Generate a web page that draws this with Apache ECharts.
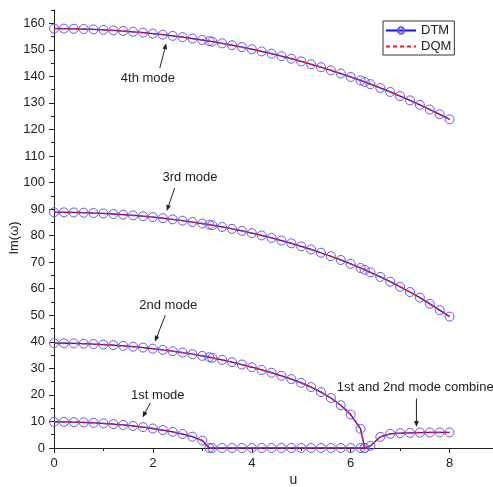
<!DOCTYPE html>
<html>
<head>
<meta charset="utf-8">
<script src="https://cdn.jsdelivr.net/npm/echarts@6/dist/echarts.min.js"></script>
<style>
  html, body { margin: 0; padding: 0; background: #fff; }
  #chart { width: 493px; height: 487px; }
</style>
</head>
<body>
<div id="chart"></div>
<script>
// Flow velocity stations (0.2 steps, with π and 2π added as extra stations)
const uValues = [0, 0.2, 0.4, 0.6, 0.8, 1.0, 1.2, 1.4, 1.6, 1.8, 2.0, 2.2, 2.4, 2.6, 2.8, 3.0, 3.1416,
  3.2, 3.4, 3.6, 3.8, 4.0, 4.2, 4.4, 4.6, 4.8, 5.0, 5.2, 5.4, 5.6, 5.8, 6.0, 6.2, 6.2832,
  6.4, 6.6, 6.8, 7.0, 7.2, 7.4, 7.6, 7.8, 8.0];

// Im(ω) of each mode at the stations above
// 1st mode: vanishes at u = π, stays zero, then the combined 1st/2nd branch
const mode1 = [9.87, 9.84, 9.77, 9.65, 9.48, 9.27, 9.00, 8.68, 8.30, 7.86, 7.35, 6.76, 6.08, 5.27, 4.25, 2.80, 0,
  0, 0, 0, 0, 0, 0, 0, 0, 0, 0, 0, 0, 0, 0, 0, 0, 0,
  0.8, 4.2, 5.3, 5.6, 5.7, 5.8, 5.85, 5.85, 5.85];
// 2nd mode: vanishes at u = 2π
const mode2 = [39.48, 39.46, 39.40, 39.30, 39.16, 38.97, 38.75, 38.48, 38.18, 37.82, 37.42, 36.98, 36.48, 35.94, 35.34, 34.69, 34.19,
  33.97, 33.20, 32.36, 31.44, 30.44, 29.40, 28.35, 27.20, 25.95, 24.55, 22.95, 21.05, 18.85, 16.10, 12.60, 7.20, 0];
const mode3 = [88.80, 88.78, 88.73, 88.64, 88.51, 88.35, 88.15, 87.91, 87.63, 87.32, 86.96, 86.56, 86.13, 85.64, 85.12, 84.55, 84.12,
  83.93, 83.26, 82.55, 81.78, 80.96, 80.08, 79.15, 78.16, 77.10, 75.99, 74.80, 73.55, 72.23, 70.83, 69.36, 67.81, 67.14,
  66.17, 64.45, 62.65, 60.75, 58.75, 56.66, 54.30, 51.95, 49.50];
const mode4 = [158.00, 157.98, 157.92, 157.83, 157.70, 157.53, 157.32, 157.08, 156.79, 156.47, 156.10, 155.70, 155.26, 154.78, 154.25, 153.69, 153.26,
  153.08, 152.43, 151.74, 151.00, 150.22, 149.40, 148.53, 147.61, 146.64, 145.63, 144.56, 143.44, 142.28, 141.06, 139.78, 138.46, 137.89,
  137.07, 135.63, 134.13, 132.57, 130.95, 129.26, 127.52, 125.70, 123.82];

const xTickValues = [0, 2, 4, 6, 8];
const yTickValues = [0, 10, 20, 30, 40, 50, 60, 70, 80, 90, 100, 110, 120, 130, 140, 150, 160];

// Mode labels with their arrows, in data coordinates (u, Im(ω))
const notes = [
  { text: '4th mode', at: [1.90, 139.4], from: [2.14, 143.1], to: [2.27, 152.5], align: 'center' },
  { text: '3rd mode', at: [2.75, 102.0], from: [2.44, 97.9], to: [2.28, 89.3], align: 'center' },
  { text: '2nd mode', at: [2.31, 53.7], from: [2.25, 50.0], to: [2.04, 40.0], align: 'center' },
  { text: '1st mode', at: [2.10, 19.8], from: [1.95, 17.0], to: [1.79, 11.5], align: 'center' },
  { text: '1st and 2nd mode combined', at: [5.72, 22.8], from: [7.33, 18.6], to: [7.33, 7.9], align: 'left' }
];

const FONT = 'Liberation Sans, Arial, sans-serif';
const INK = '#222';

function pairs(vals) { return vals.map((v, i) => [uValues[i], v]); }

const modes = [mode1, mode2, mode3, mode4];

const dtmSeries = modes.map(m => ({
  name: 'DTM', type: 'line', data: pairs(m), z: 2,
  symbol: 'circle', symbolSize: 9, showAllSymbol: true,
  lineStyle: { color: '#1010ff', width: 1.3 },
  itemStyle: { color: 'rgba(0,0,0,0)', borderColor: '#5a5aff', borderWidth: 1 },
  emphasis: { disabled: true }
}));
const dqmSeries = modes.map(m => ({
  name: 'DQM', type: 'line', data: pairs(m), z: 3,
  symbol: 'none',
  lineStyle: { color: '#ee1c1c', width: 1.5, type: [4, 3] },
  itemStyle: { color: '#ee1c1c' },
  emphasis: { disabled: true }
}));

const chart = echarts.init(document.getElementById('chart'), null, { renderer: 'canvas' });

const axisText = { color: INK, fontSize: 13, fontFamily: FONT };

chart.setOption({
  animation: false,
  backgroundColor: '#fff',
  grid: { left: 54, right: -6, top: 10, bottom: 39, containLabel: false, outerBoundsMode: 'none' },
  legend: {
    data: [
      { name: 'DTM' },
      { name: 'DQM', itemStyle: { opacity: 0 } }
    ],
    orient: 'vertical', left: 383, top: 21,
    padding: [3, 3, 2, 2], itemGap: 3, itemWidth: 30, itemHeight: 8,
    borderColor: '#333', borderWidth: 1, backgroundColor: '#fff',
    textStyle: { fontSize: 13, color: INK, fontFamily: FONT }
  },
  xAxis: [
    {
      type: 'value', min: 0, max: 9, interval: 2,
      axisLine: { lineStyle: { color: INK, width: 1 } },
      axisTick: { length: 5, lineStyle: { color: INK }, customValues: xTickValues },
      axisLabel: Object.assign({ margin: 9, customValues: xTickValues }, axisText),
      splitLine: { show: false },
      name: 'u', nameLocation: 'middle', nameGap: 25, nameMoveOverlap: false,
      nameTextStyle: { color: INK, fontSize: 14, fontFamily: FONT, padding: [0, 0, 0, 34] }
    },
    {
      type: 'value', min: 0, max: 9, interval: 1, position: 'bottom',
      axisLine: { show: false },
      axisTick: { length: 3, lineStyle: { color: INK } },
      axisLabel: { show: false }, splitLine: { show: false }
    }
  ],
  yAxis: [
    {
      type: 'value', min: 0, max: 165, interval: 10, position: 'left',
      axisLine: { show: true, lineStyle: { color: INK, width: 1 } },
      axisTick: { show: true, length: 5, lineStyle: { color: INK }, customValues: yTickValues },
      axisLabel: Object.assign({ margin: 9, customValues: yTickValues }, axisText),
      splitLine: { show: false },
      name: 'Im(ω)', nameLocation: 'middle', nameGap: 33, nameMoveOverlap: false,
      nameTextStyle: { color: INK, fontSize: 13, fontFamily: FONT, padding: [0, 18, 0, 0] }
    },
    {
      type: 'value', min: 0, max: 165, interval: 5, position: 'left', offset: 0,
      axisLine: { show: false },
      axisTick: { show: true, length: 3, lineStyle: { color: INK } },
      axisLabel: { show: false }, splitLine: { show: false }
    }
  ],
  series: dtmSeries.concat(dqmSeries)
});

// Mode labels and arrows, placed through the chart's own coordinate conversion
function toPx(p) { return chart.convertToPixel({ seriesIndex: 0 }, p); }

const graphics = [];
notes.forEach(n => {
  const at = toPx(n.at), a = toPx(n.from), b = toPx(n.to);
  graphics.push({
    type: 'text', x: at[0], y: at[1], z: 10,
    style: { text: n.text, fill: INK, font: '13px ' + FONT, align: n.align, verticalAlign: 'middle' }
  });
  const dx = b[0] - a[0], dy = b[1] - a[1], len = Math.hypot(dx, dy);
  const ux = dx / len, uy = dy / len, head = 6, half = 2.4;
  const base = [b[0] - ux * head, b[1] - uy * head];
  graphics.push({
    type: 'line', z: 10,
    shape: { x1: a[0], y1: a[1], x2: base[0], y2: base[1] },
    style: { stroke: INK, lineWidth: 1 }
  });
  graphics.push({
    type: 'polygon', z: 10,
    shape: { points: [b, [base[0] - uy * half, base[1] + ux * half], [base[0] + uy * half, base[1] - ux * half]] },
    style: { fill: INK }
  });
});
chart.setOption({ graphic: graphics });
</script>
</body>
</html>
